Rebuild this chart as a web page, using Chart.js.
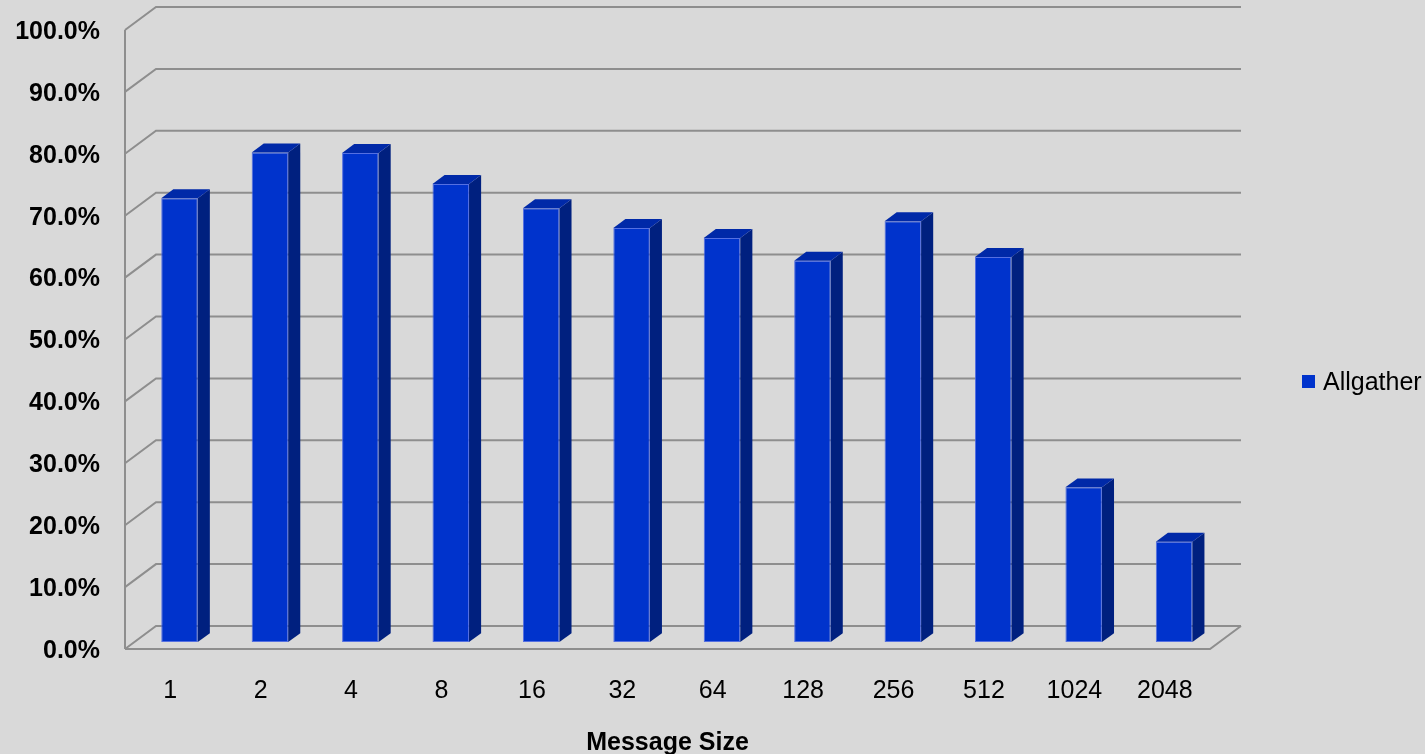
<!DOCTYPE html>
<html>
<head>
<meta charset="utf-8">
<title>Allgather efficiency by message size</title>
<script src="https://cdn.jsdelivr.net/npm/chart.js@4/dist/chart.umd.min.js"></script>
<style>
  html, body { margin: 0; padding: 0; background: #d9d9d9; }
  #wrap { width: 1425px; height: 754px; }
  canvas { display: block; }
</style>
</head>
<body>
<div id="wrap"><canvas id="chart" width="1425" height="754"></canvas></div>
<script>
// Message sizes along the category axis
const messageSizes = ['1', '2', '4', '8', '16', '32', '64', '128', '256', '512', '1024', '2048'];
// Allgather efficiency (%) per message size
const allgatherEfficiency = [71.7, 79.1, 79.0, 74.0, 70.1, 66.9, 65.3, 61.6, 68.0, 62.2, 25.0, 16.2];
const seriesLabel = 'Allgather';
const axisTitle = 'Message Size';

// Oblique 3D projection: offset of the back wall relative to the front plane
const DEPTH_X = 31;
const DEPTH_Y = -23;
// Depth span occupied by the columns (fraction of full depth)
const BAR_FRONT = 0.3;
const BAR_BACK = 0.69;

const FRONT_COLOR = '#0033cc';
const SIDE_COLOR = '#00207f';
const TOP_COLOR = '#0029a8';
const WALL_LINE = '#8e8e8e';
const FONT = '"Liberation Sans", Arial, sans-serif';

// Back wall, left wall and floor drawn behind the columns
const wallsPlugin = {
  id: 'walls',
  beforeDatasetsDraw(chart) {
    const { ctx, chartArea: a, scales: { y } } = chart;
    ctx.save();
    ctx.strokeStyle = WALL_LINE;
    ctx.lineWidth = 2;
    ctx.lineCap = 'butt';
    y.ticks.forEach(t => {
      const py = y.getPixelForValue(t.value);
      ctx.beginPath();
      ctx.moveTo(a.left, py);
      ctx.lineTo(a.left + DEPTH_X, py + DEPTH_Y);
      ctx.lineTo(a.right + DEPTH_X, py + DEPTH_Y);
      ctx.stroke();
    });
    // floor front edge and right edge
    const y0 = y.getPixelForValue(0);
    ctx.beginPath();
    ctx.moveTo(a.left, y0);
    ctx.lineTo(a.right, y0);
    ctx.lineTo(a.right + DEPTH_X, y0 + DEPTH_Y);
    ctx.stroke();
    // vertical axis line on the front plane
    ctx.beginPath();
    ctx.moveTo(a.left, y.getPixelForValue(y.max));
    ctx.lineTo(a.left, y0);
    ctx.stroke();
    ctx.restore();
  },
  // shift the column fronts to their depth position
  beforeDatasetDraw(chart) {
    chart.ctx.save();
    chart.ctx.translate(DEPTH_X * BAR_FRONT, DEPTH_Y * BAR_FRONT);
  },
  // side and top faces of each column, then undo the shift
  afterDatasetDraw(chart, args) {
    const { ctx } = chart;
    const dx = DEPTH_X * (BAR_BACK - BAR_FRONT);
    const dy = DEPTH_Y * (BAR_BACK - BAR_FRONT);
    args.meta.data.forEach(bar => {
      const { x, y, base, width } = bar.getProps(['x', 'y', 'base', 'width'], true);
      const l = x - width / 2, r = x + width / 2;
      ctx.fillStyle = SIDE_COLOR;
      ctx.beginPath();
      ctx.moveTo(r, y);
      ctx.lineTo(r + dx, y + dy);
      ctx.lineTo(r + dx, base + dy);
      ctx.lineTo(r, base);
      ctx.closePath();
      ctx.fill();
      ctx.fillStyle = TOP_COLOR;
      ctx.beginPath();
      ctx.moveTo(l, y);
      ctx.lineTo(l + dx, y + dy);
      ctx.lineTo(r + dx, y + dy);
      ctx.lineTo(r, y);
      ctx.closePath();
      ctx.fill();
    });
    ctx.restore();
  },
  // legend to the right of the plot
  afterDraw(chart) {
    const { ctx } = chart;
    const ds = chart.data.datasets[0];
    ctx.save();
    ctx.fillStyle = ds.backgroundColor;
    ctx.fillRect(1302, 375, 13, 13);
    ctx.fillStyle = '#000';
    ctx.font = '25px ' + FONT;
    ctx.textBaseline = 'middle';
    ctx.textAlign = 'left';
    ctx.fillText(ds.label, 1323, 383);
    ctx.restore();
  }
};

new Chart(document.getElementById('chart'), {
  type: 'bar',
  data: {
    labels: messageSizes,
    datasets: [{
      label: seriesLabel,
      data: allgatherEfficiency,
      backgroundColor: FRONT_COLOR,
      borderColor: 'rgba(70,100,225,0.9)',
      borderWidth: 1,
      borderSkipped: false,
      categoryPercentage: 1.0,
      barPercentage: 0.404,
      clip: false
    }]
  },
  options: {
    responsive: false,
    animation: false,
    events: [],
    layout: { padding: { left: 0, right: 215, top: 30, bottom: 0 } },
    plugins: {
      legend: { display: false },
      tooltip: { enabled: false }
    },
    scales: {
      x: {
        grid: { display: false, drawTicks: false },
        border: { display: false },
        ticks: { color: '#000', font: { family: FONT, size: 25 }, padding: 27, maxRotation: 0 },
        title: {
          display: true,
          text: axisTitle,
          color: '#000',
          font: { family: FONT, size: 25, weight: 'bold', lineHeight: 0.88 },
          padding: { top: 0, bottom: 0 }
        },
        afterFit(s) { s.height = 105; }
      },
      y: {
        min: 0,
        max: 100,
        grid: { display: false, drawTicks: false },
        border: { display: false },
        ticks: {
          stepSize: 10,
          color: '#000',
          padding: 25,
          labelOffset: 2,
          font: { family: FONT, size: 25, weight: 'bold' },
          callback: v => v.toFixed(1) + '%'
        },
        afterFit(s) {
          s.width = 125;
          s.paddingTop = 0;
          s.paddingBottom = 0;
        }
      }
    }
  },
  plugins: [wallsPlugin]
});
</script>
</body>
</html>
